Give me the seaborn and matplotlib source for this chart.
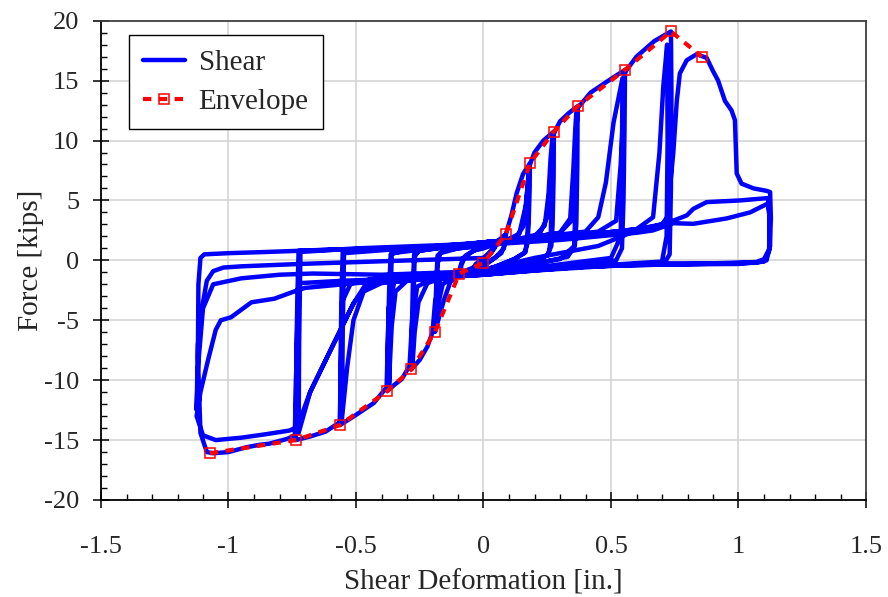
import numpy as np
import pandas as pd
import matplotlib
matplotlib.use("Agg")
import matplotlib.pyplot as plt
import seaborn as sns

# ---------------------------------------------------------------------------
# Cyclic shear test: force vs. shear deformation, one list pair per cycle
# ---------------------------------------------------------------------------
cyc0_def = [0.0, 0.02, 0.045, 0.03, 0.0, -0.02, -0.045, -0.03, 0.0]
cyc0_force = [0.0, 0.5, 1.1, 0.6, -0.1, -0.4, -0.8, -0.3, 0.2]

cyc1a_def = [0.0, 0.03, 0.06, 0.088, 0.085, 0.07, 0.03, 0.0, -0.04, -0.075, -0.095, -0.092, -0.08, -0.04, 0.0]
cyc1a_force = [0.2, 0.8, 1.5, 2.2, 1.4, 0.6, 0.0, -0.3, -0.6, -0.9, -1.1, -0.6, 0.2, 0.8, 1.0]
cyc1b_def = [0.0, 0.04, 0.07, 0.085, 0.08, 0.05, 0.0, -0.05, -0.08, -0.09, -0.087, -0.07, -0.03, 0.0]
cyc1b_force = [1.0, 1.3, 1.7, 2.1, 1.0, 0.3, -0.5, -0.8, -1.0, -1.05, -0.4, 0.4, 0.9, 1.1]

cyc2a_def = [0.0, 0.05, 0.088, 0.11, 0.13, 0.155, 0.182, 0.181, 0.177, 0.172, 0.16, 0.12, 0.05, 0.0,
             -0.05, -0.095, -0.13, -0.155, -0.175, -0.19, -0.188, -0.184, -0.18, -0.16, -0.1, -0.05, 0.0]
cyc2a_force = [1.1, 1.5, 2.2, 3.8, 5.6, 7.2, 8.1, 6.0, 3.0, 1.4, 0.6, 0.1, -0.5, -0.9,
               -1.1, -1.2, -1.8, -3.3, -4.8, -5.97, -3.8, -1.2, 0.4, 0.8, 1.0, 1.1, 1.3]
cyc2b_def = [0.0, 0.08, 0.13, 0.155, 0.168, 0.175, 0.178, 0.176, 0.172, 0.165, 0.12, 0.05, -0.05,
             -0.12, -0.16, -0.175, -0.183, -0.186, -0.184, -0.18, -0.17, -0.1, 0.0]
cyc2b_force = [1.3, 1.6, 2.0, 2.8, 4.8, 6.8, 7.7, 4.5, 1.8, 0.7, 0.1, -0.5, -1.1,
               -1.4, -2.0, -3.4, -4.8, -5.6, -3.0, -0.3, 0.6, 1.0, 1.3]

cyc3a_def = [0.0, 0.08, 0.14, 0.165, 0.182, 0.2, 0.235, 0.276, 0.275, 0.271, 0.266, 0.25, 0.2, 0.1, 0.0,
             -0.1, -0.17, -0.19, -0.2, -0.22, -0.25, -0.283, -0.281, -0.277, -0.272, -0.25, -0.15, 0.0]
cyc3a_force = [1.3, 1.6, 2.2, 4.5, 8.0, 9.0, 10.0, 10.75, 7.0, 3.0, 1.2, 0.4, -0.1, -0.5, -0.9,
               -1.2, -1.6, -3.5, -6.0, -7.2, -8.3, -9.1, -6.0, -2.0, 0.5, 0.8, 1.1, 1.4]
cyc3b_def = [0.0, 0.1, 0.2, 0.24, 0.255, 0.263, 0.27, 0.268, 0.263, 0.255, 0.2, 0.1, 0.0,
             -0.15, -0.22, -0.255, -0.27, -0.278, -0.276, -0.27, -0.255, -0.15, 0.0]
cyc3b_force = [1.4, 1.6, 2.0, 2.9, 5.5, 8.5, 10.2, 5.5, 1.6, 0.5, -0.1, -0.6, -1.0,
               -1.4, -1.9, -3.5, -6.0, -8.6, -4.5, 0.3, 0.8, 1.1, 1.5]

cyc4a_def = [0.0, 0.12, 0.22, 0.25, 0.263, 0.276, 0.3, 0.335, 0.369, 0.368, 0.364, 0.358, 0.33, 0.2, 0.0,
             -0.2, -0.26, -0.28, -0.29, -0.32, -0.35, -0.377, -0.375, -0.37, -0.364, -0.3, -0.1, 0.0]
cyc4a_force = [1.5, 1.7, 2.2, 3.6, 7.0, 10.6, 11.6, 12.3, 12.86, 8.0, 3.0, 1.2, 0.3, -0.3, -1.0,
               -1.5, -2.2, -5.0, -8.8, -9.9, -10.4, -10.9, -7.0, -2.5, 0.5, 0.9, 1.2, 1.5]
cyc4b_def = [0.0, 0.15, 0.3, 0.34, 0.352, 0.36, 0.364, 0.362, 0.356, 0.3, 0.1, -0.1, -0.3,
             -0.345, -0.36, -0.368, -0.37, -0.366, -0.36, -0.2, 0.0]
cyc4b_force = [1.5, 1.8, 2.3, 3.5, 7.5, 11.0, 12.3, 6.0, 1.2, 0.1, -0.6, -1.2, -1.7,
               -2.6, -5.5, -9.0, -10.3, -5.0, 0.6, 1.0, 1.5]

cyc5a_def = [0.0, 0.15, 0.3, 0.345, 0.357, 0.369, 0.42, 0.49, 0.555, 0.553, 0.549, 0.543, 0.52, 0.4, 0.2, 0.0,
             -0.2, -0.35, -0.372, -0.38, -0.43, -0.5, -0.563, -0.561, -0.557, -0.552, -0.45, -0.2, 0.0]
cyc5a_force = [1.5, 1.8, 2.3, 3.3, 8.0, 12.7, 14.0, 15.0, 15.9, 11.0, 5.0, 1.0, 0.0, -0.4, -0.7, -1.1,
               -1.5, -1.8, -4.0, -10.6, -11.9, -12.9, -13.75, -9.0, -3.0, 0.7, 0.9, 1.1, 1.5]
cyc5b_def = [0.0, 0.2, 0.4, 0.45, 0.48, 0.51, 0.545, 0.543, 0.538, 0.5, 0.2, -0.2, -0.4,
             -0.47, -0.51, -0.535, -0.555, -0.552, -0.547, -0.3, 0.0]
cyc5b_force = [1.5, 1.9, 2.4, 3.6, 6.5, 11.5, 15.2, 9.0, 2.0, 0.2, -0.6, -1.5, -1.9,
               -2.6, -5.0, -9.0, -13.2, -6.0, 0.6, 1.0, 1.5]

cyc6a_def = [0.0, 0.25, 0.45, 0.52, 0.538, 0.555, 0.6, 0.67, 0.735, 0.737, 0.735, 0.73, 0.71, 0.5, 0.2, 0.0,
             -0.3, -0.52, -0.555, -0.563, -0.62, -0.68, -0.736, -0.735, -0.73, -0.725, -0.6, -0.3, 0.0]
cyc6a_force = [1.5, 1.9, 2.4, 3.3, 8.0, 15.7, 17.0, 18.3, 19.1, 14.0, 6.0, 0.5, -0.2, -0.4, -0.8, -1.2,
               -1.6, -1.9, -3.5, -13.5, -14.3, -14.7, -15.0, -10.0, -3.0, 0.8, 0.9, 1.0, 1.4]
cyc6b_def = [0.0, 0.3, 0.6, 0.665, 0.69, 0.705, 0.72, 0.722, 0.718, 0.7, 0.4, 0.0, -0.4,
             -0.46, -0.51, -0.6, -0.68, -0.725, -0.723, -0.718, -0.5, 0.0]
cyc6b_force = [1.4, 1.9, 2.6, 3.6, 9.0, 14.5, 18.0, 10.0, 2.0, -0.1, -0.5, -1.2, -1.7,
               -2.2, -3.6, -7.5, -11.0, -14.4, -7.0, 0.7, 1.0, 1.4]

cyc7_def = [0.0, 0.3, 0.6, 0.7, 0.72, 0.744, 0.758, 0.77, 0.797, 0.836, 0.875, 0.90, 0.92, 0.947, 0.973,
            0.986, 0.993, 1.012, 1.06, 1.11, 1.124, 1.127, 1.122, 1.1, 1.07, 0.9, 0.69, 0.5, 0.2, 0.0,
            -0.3, -0.55, -0.72, -0.73, -0.74, -0.77, -0.84, -0.88, -0.93, -1.0, -1.06, -1.085, -1.11,
            -1.12, -1.118, -1.11, -1.095, -1.0, -0.85, -0.72, -0.4, 0.0]
cyc7_force = [1.4, 1.9, 2.6, 3.0, 3.6, 8.9, 13.3, 15.6, 16.7, 17.2, 16.9, 15.8, 15.0, 13.3, 12.5,
              11.7, 7.25, 6.4, 6.0, 5.8, 5.7, 3.5, 1.0, 0.1, -0.14, -0.25, -0.25, -0.45, -0.85, -1.2,
              -1.5, -1.7, -1.9, -5.0, -14.6, -14.9, -15.3, -15.4, -15.6, -16.0, -16.1, -16.0, -14.4,
              -8.0, -2.0, 0.2, 0.5, 0.6, 0.7, 0.8, 1.0, 1.3]

cyc8_def = [0.0, 0.3, 0.6, 0.665, 0.744, 0.823, 0.954, 1.045, 1.116, 1.122, 1.124, 1.11, 1.07, 0.85,
            0.6, 0.3, 0.0, -0.3, -0.45, -0.51, -0.6, -0.68, -0.73, -0.76, -0.85, -0.95, -1.05, -1.1,
            -1.125, -1.11, -1.08, -1.05, -1.03, -0.99, -0.91, -0.82, -0.73, -0.70, -0.5, -0.2, 0.0]
cyc8_force = [1.3, 1.7, 2.3, 2.5, 3.1, 3.05, 3.5, 4.0, 4.75, 3.5, 1.2, 0.0, -0.2, -0.3,
              -0.4, -0.6, -1.0, -1.3, -1.6, -3.6, -7.5, -11.0, -13.9, -14.2, -14.5, -14.8, -15.0, -14.6,
              -13.0, -11.0, -8.3, -5.8, -5.0, -4.75, -3.5, -3.2, -2.5, -2.3, -1.9, -1.4, -0.8]

cyc9_def = [0.0, 0.2, 0.45, 0.6, 0.68, 0.743, 0.797, 0.823, 0.875, 1.006, 1.116, 1.122, 1.12, 1.10,
            1.0, 0.7, 0.4, 0.0, -0.4, -0.67, -0.8, -0.95, -1.06, -1.10, -1.12, -1.125, -1.12, -1.10,
            -1.085, -1.06, -1.02, -0.95, -0.72, -0.5, -0.2, 0.0]
cyc9_force = [-0.8, 0.2, 1.2, 2.5, 2.9, 3.3, 3.75, 4.3, 4.86, 5.0, 5.2, 3.5, 0.8, -0.1,
              -0.3, -0.35, -0.5, -0.9, -1.2, -1.1, -1.2, -1.5, -2.0, -4.0, -9.0, -12.5, -7.0, -3.5,
              -1.7, -0.9, -0.6, -0.5, -0.3, -0.15, 0.05, 0.2]

# Backbone (envelope) points
env_def = [-1.073, -0.736, -0.563, -0.377, -0.283, -0.19, -0.095, 0.0,
           0.088, 0.182, 0.276, 0.369, 0.555, 0.735, 0.856]
env_force = [-16.1, -15.0, -13.75, -10.9, -9.1, -5.97, -1.1, -0.2,
             2.2, 8.1, 10.75, 12.86, 15.9, 19.1, 17.0]

x_ticks = [-1.5, -1, -0.5, 0, 0.5, 1, 1.5]
x_tick_labels = ["-1.5", "-1", "-0.5", "0", "0.5", "1", "1.5"]
y_ticks = [-20, -15, -10, -5, 0, 5, 10, 15, 20]

cycles_def = [cyc0_def, cyc1a_def, cyc1b_def, cyc2a_def, cyc2b_def, cyc3a_def, cyc3b_def,
              cyc4a_def, cyc4b_def, cyc5a_def, cyc5b_def, cyc6a_def, cyc6b_def,
              cyc7_def, cyc8_def, cyc9_def]
cycles_force = [cyc0_force, cyc1a_force, cyc1b_force, cyc2a_force, cyc2b_force, cyc3a_force,
                cyc3b_force, cyc4a_force, cyc4b_force, cyc5a_force, cyc5b_force, cyc6a_force,
                cyc6b_force, cyc7_force, cyc8_force, cyc9_force]

shear = pd.DataFrame({
    "deformation": np.concatenate(cycles_def),
    "force": np.concatenate(cycles_force),
})
envelope = pd.DataFrame({"deformation": env_def, "force": env_force})

# ---------------------------------------------------------------------------
sns.set_style("white")
plt.rcParams["font.family"] = ["Liberation Serif", "DejaVu Serif"]

fig = plt.figure(figsize=(8.88, 5.97), dpi=100)
ax = fig.add_axes([101 / 888, 1 - 500 / 597, 765 / 888, 479.3 / 597])

sns.lineplot(data=shear, x="deformation", y="force", sort=False, estimator=None,
             color="#0000ff", linewidth=3.2, label="Shear", ax=ax, zorder=3)
sns.lineplot(data=envelope, x="deformation", y="force", sort=False, estimator=None,
             color="#ff0000", linewidth=3.0, linestyle=(0, (2.0, 1.8)),
             marker="s", markersize=7.5, markerfacecolor="none",
             markeredgecolor="#ff0000", markeredgewidth=1.1,
             label="Envelope", ax=ax, zorder=4)

ax.set_xlim(-1.5, 1.5)
ax.set_ylim(-20, 20)
ax.set_xticks(x_ticks)
ax.set_yticks(y_ticks)
ax.set_xticklabels(x_tick_labels)
ax.set_yticklabels([str(v) for v in y_ticks])
ax.set_xticks(np.arange(-1.5, 1.51, 0.1), minor=True)
ax.set_yticks(np.arange(-20, 20.1, 1), minor=True)

ax.grid(True, which="major", color="#d4d4d4", linewidth=1.2, zorder=0)
ax.grid(False, which="minor")
ax.set_axisbelow(True)

for side in ["left", "bottom"]:
    ax.spines[side].set_color("black")
    ax.spines[side].set_linewidth(1.3)
for side in ["top", "right"]:
    ax.spines[side].set_color("#404040")
    ax.spines[side].set_linewidth(1.3)

ax.tick_params(axis="both", which="both", bottom=True, left=True, top=False, right=False)
ax.tick_params(axis="both", which="major", direction="inout", length=12, width=1.1,
               labelsize=19, color="black")
ax.tick_params(axis="both", which="minor", direction="in", length=4.5, width=1.0, color="black")
ax.tick_params(axis="x", which="major", pad=20)
ax.tick_params(axis="y", which="major", pad=9.5)

ax.set_xlabel("Shear Deformation [in.]", fontsize=21, labelpad=8)
ax.set_ylabel("Force [kips]", fontsize=21, labelpad=0)

leg = ax.legend(loc="upper left", bbox_to_anchor=(0.036, 0.970), fontsize=21,
                frameon=True, fancybox=False, shadow=False, borderpad=0.5,
                handlelength=1.45, handletextpad=0.45, labelspacing=0.42,
                borderaxespad=0.0)
leg.get_frame().set_edgecolor("black")
leg.get_frame().set_linewidth(1.0)
leg.get_frame().set_alpha(1.0)

fig.savefig("out.png", dpi=100)
